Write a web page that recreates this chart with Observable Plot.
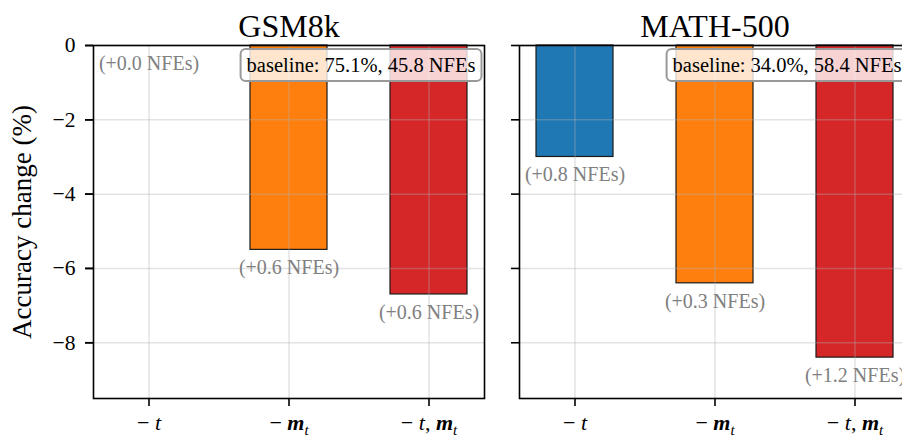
<!DOCTYPE html>
<html><head><meta charset="utf-8">
<script src="https://cdn.jsdelivr.net/npm/d3@7"></script>
<script src="https://cdn.jsdelivr.net/npm/@observablehq/plot@0.6"></script>
<style>
html,body{margin:0;padding:0;background:#fff;overflow:hidden;}
#chart svg{display:block;}
</style>
</head><body><div id="chart"></div>
<script>
// ---- data ----
const datasets = ["GSM8k", "MATH-500"];
const conditions = ["-t", "-m_t", "-t,m_t"];
const conditionLabels = ["− t", "− m_t", "− t, m_t"];
const barColors = ["#1f77b4", "#ff7f0e", "#d62728"];
const gsmChange = [0.0, -5.5, -6.7];
const mathChange = [-3.0, -6.4, -8.4];
const gsmNfe = ["+0.0", "+0.6", "+0.6"];
const mathNfe = ["+0.8", "+0.3", "+1.2"];
const baselineAcc = ["75.1%", "34.0%"];
const baselineNfe = ["45.8", "58.4"];
const yTicks = [0, -2, -4, -6, -8];
const yLabel = "Accuracy change (%)";

// ---- tables built from the arrays ----
const changes = [gsmChange, mathChange];
const nfes = [gsmNfe, mathNfe];
const rows = [];
datasets.forEach((ds, i) => conditions.forEach((c, j) => rows.push({
  dataset: ds, cond: c, value: changes[i][j], nfe: nfes[i][j]
})));
const baseRows = datasets.map((ds, i) => ({dataset: ds, acc: baselineAcc[i], nfe: baselineNfe[i]}));
const labelOf = Object.fromEntries(conditions.map((c, i) => [c, conditionLabels[i]]));

const FONT = "'Liberation Serif', 'Times New Roman', serif";
const gridStyle = {stroke: "#b0b0b0", strokeOpacity: 0.35, strokeWidth: 1.5};

const chart = Plot.plot({
  width: 914,
  height: 437,
  marginLeft: 93,
  marginRight: 3,
  marginTop: 45,
  marginBottom: 39,
  style: {fontFamily: FONT, fontSize: "20px", background: "white", overflow: "visible", maxWidth: "none"},
  fx: {domain: datasets, paddingInner: 0.082, paddingOuter: 0},
  x: {domain: conditions, paddingInner: 0.45, paddingOuter: 0.118},
  y: {domain: [-9.5, 0]},
  color: {domain: conditions, range: barColors},
  marks: [
    Plot.barY(rows, {fx: "dataset", x: "cond", y: "value", fill: "cond", stroke: "#1a1a1a", strokeWidth: 1.2}),
    Plot.gridX({...gridStyle}),
    Plot.gridY(yTicks, {...gridStyle}),
    Plot.text(rows, {fx: "dataset", x: "cond", y: "value", text: d => `(${d.nfe} NFEs)`,
      dy: 18, lineAnchor: "middle", fill: "#808080", fontSize: 20}),
    Plot.frame({stroke: "black", strokeWidth: 1.6}),
    Plot.text(baseRows, {fx: "dataset", text: d => `baseline: ${d.acc}, ${d.nfe} NFEs`,
      frameAnchor: "top-right", textAnchor: "end", lineAnchor: "middle", dx: -9, dy: 20,
      fill: "black", fontSize: 20.5}),
    Plot.axisFx({anchor: "top", label: null, tickSize: 0, tickPadding: 9, fontSize: 32}),
    Plot.axisX({label: null, tickSize: 8, tickPadding: 8, fontSize: 22,
      tickFormat: d => labelOf[d]}),
    Plot.axisY(yTicks, {label: null, tickSize: 8, tickPadding: 10, fontSize: 21.5}),
    Plot.axisY(yTicks, {label: null, tickSize: 8, facetAnchor: null, tickFormat: () => ""}),
    Plot.text([yLabel], {fx: () => datasets[0], frameAnchor: "left", textAnchor: "middle",
      lineAnchor: "middle", dx: -71, rotate: -90, text: d => d, fontSize: 27, fill: "black"})
  ]
});
document.getElementById("chart").appendChild(chart);

// thicker tick marks like the reference
chart.querySelectorAll('g[aria-label$="-axis tick"]').forEach(g => g.setAttribute("stroke-width", 1.6));

// ---- math-style tick labels ----
const it = s => `<tspan font-style="italic">${s}</tspan>`;
const bm = `<tspan font-style="italic" font-weight="bold">m</tspan><tspan font-style="italic" font-size="15" dy="5">t</tspan>`;
const rich = {
  "− t": `− ${it("t")}`,
  "− m_t": `− ${bm}`,
  "− t, m_t": `− ${it("t")}, ${bm}`
};
chart.querySelectorAll("text").forEach(t => {
  const s = t.textContent;
  if (rich[s] !== undefined && t.children.length === 0) t.innerHTML = rich[s];
});

// ---- rounded boxes behind the baseline annotations ----
chart.querySelectorAll("text").forEach(t => {
  if (!t.textContent.startsWith("baseline:")) return;
  const b = t.getBBox();
  const r = document.createElementNS("http://www.w3.org/2000/svg", "rect");
  const px = 6, py = 5;
  r.setAttribute("x", b.x - px);
  r.setAttribute("y", b.y - py);
  r.setAttribute("width", b.width + 2 * px);
  r.setAttribute("height", b.height + 2 * py);
  r.setAttribute("rx", 5);
  r.setAttribute("fill", "white");
  r.setAttribute("fill-opacity", 0.8);
  r.setAttribute("stroke", "#999999");
  r.setAttribute("stroke-width", 2);
  if (t.getAttribute("transform")) r.setAttribute("transform", t.getAttribute("transform"));
  t.parentNode.insertBefore(r, t);
});
</script>
</body></html>
